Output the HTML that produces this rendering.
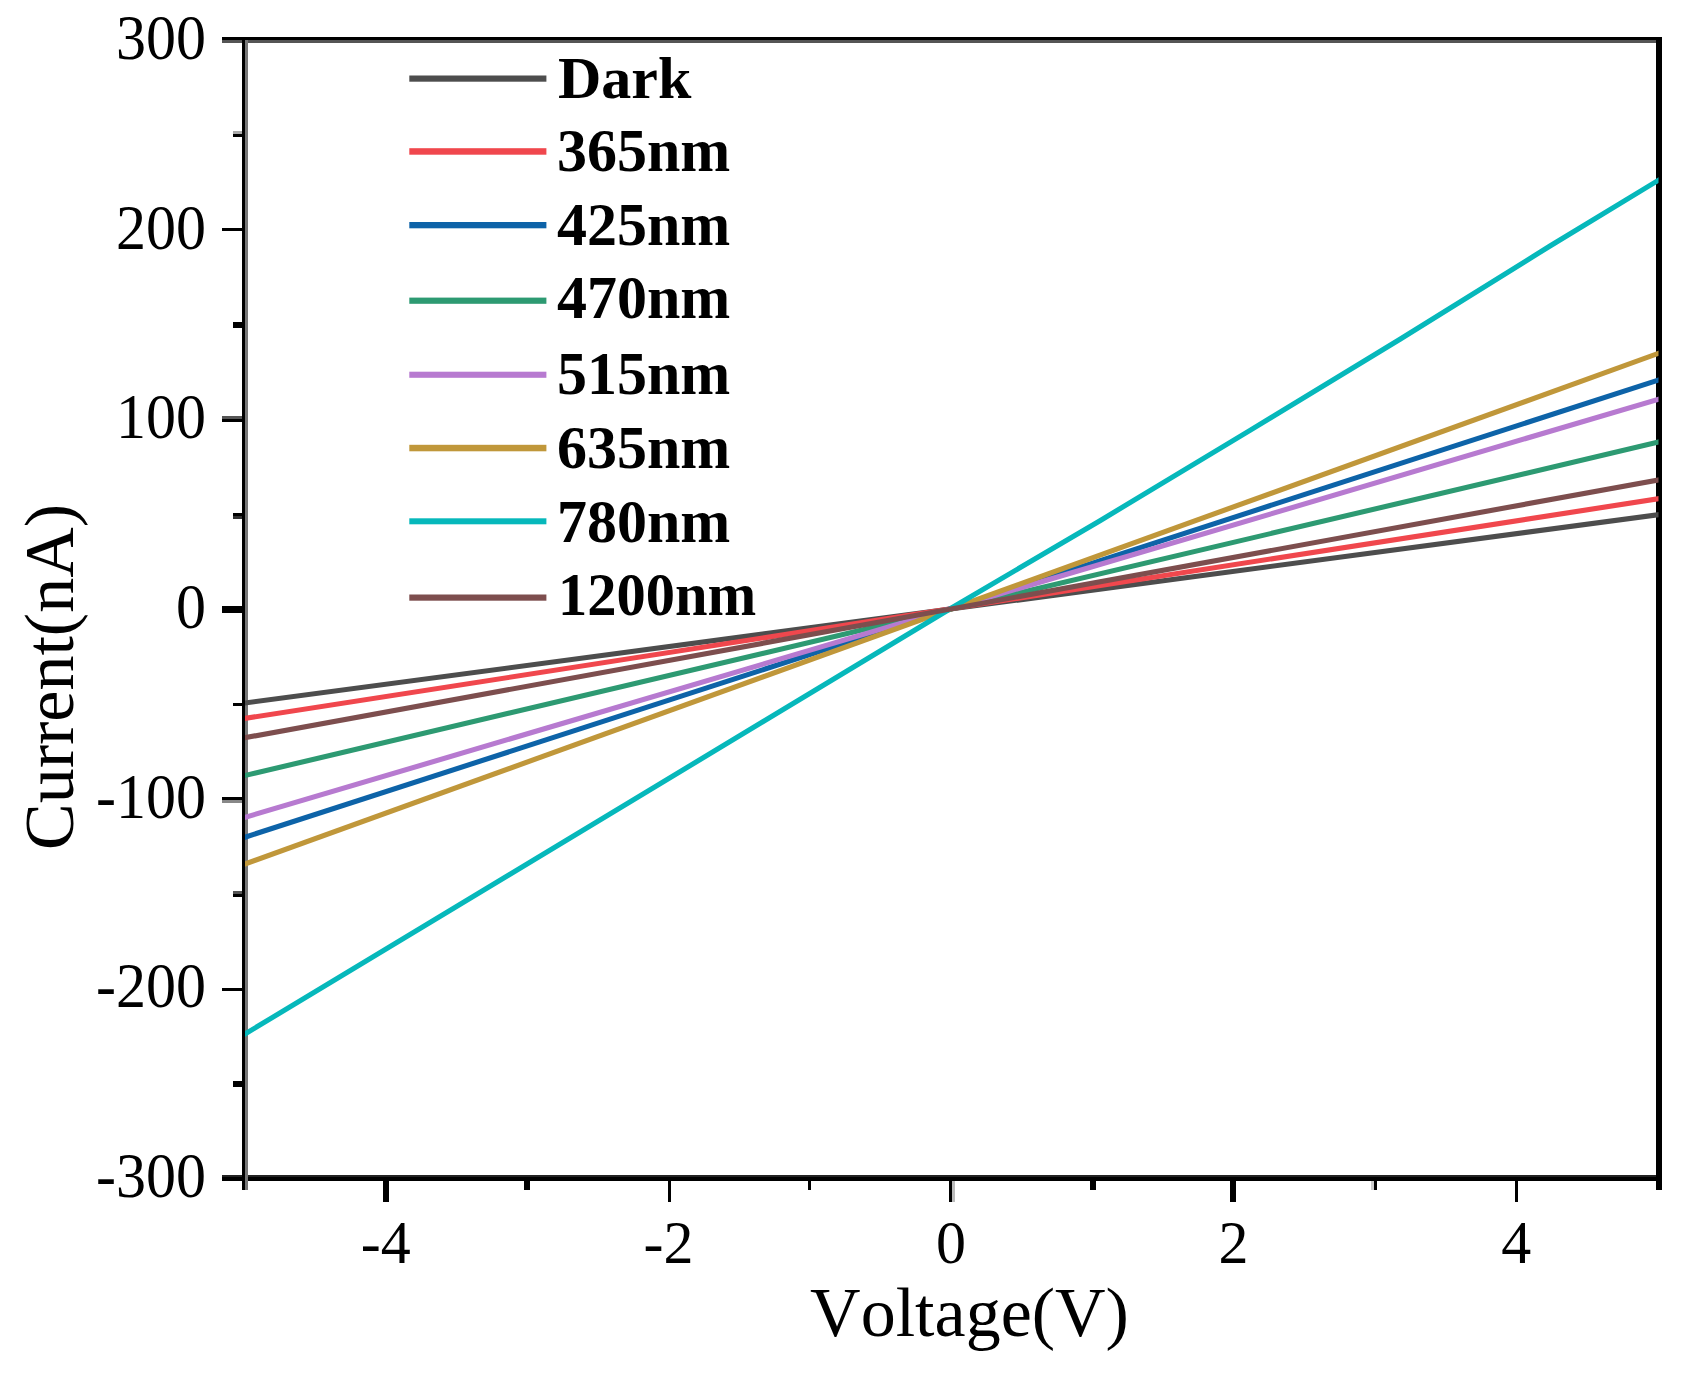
<!DOCTYPE html>
<html lang="en"><head><meta charset="utf-8"><title>I-V curves</title>
<style>
html,body{margin:0;padding:0;background:#fff;}
body{width:1691px;height:1375px;overflow:hidden;}
svg{display:block;}
text{font-family:"Liberation Serif",serif;fill:#000;font-kerning:none;}
.tk{font-size:60px;}
.ax{font-size:70px;}
.lg{font-size:60px;font-weight:bold;}
</style></head><body>
<svg width="1691" height="1375" viewBox="0 0 1691 1375">
<rect x="0" y="0" width="1691" height="1375" fill="#fff"/>
<g shape-rendering="crispEdges">
<rect x="222" y="37" width="1440" height="3" fill="#000"/>
<rect x="222" y="40" width="1440" height="3" fill="#555"/>
<rect x="222" y="1175" width="1440" height="6" fill="#000"/>
<rect x="222" y="1175" width="1440" height="2" fill="#222"/>
<rect x="242" y="37" width="3" height="1153" fill="#000"/>
<rect x="245" y="40" width="3" height="1150" fill="#777"/>
<rect x="1656" y="37" width="6" height="1153" fill="#000"/>
<rect x="233" y="131" width="9" height="3" fill="#aaa"/>
<rect x="233" y="134" width="9" height="3" fill="#000"/>
<rect x="222" y="228" width="20" height="3" fill="#000"/>
<rect x="233" y="322" width="9" height="6" fill="#000"/>
<rect x="222" y="416" width="20" height="3" fill="#555"/>
<rect x="222" y="419" width="20" height="3" fill="#000"/>
<rect x="233" y="512.5" width="9" height="3" fill="#000"/>
<rect x="233" y="515.5" width="9" height="3" fill="#333"/>
<rect x="222" y="606" width="20" height="6.5" fill="#000"/>
<rect x="233" y="703" width="9" height="3" fill="#000"/>
<rect x="222" y="797.3" width="20" height="3" fill="#000"/>
<rect x="222" y="800.3" width="20" height="2.5" fill="#888"/>
<rect x="233" y="891" width="9" height="3" fill="#555"/>
<rect x="233" y="894" width="9" height="3" fill="#000"/>
<rect x="222" y="987.5" width="20" height="3" fill="#000"/>
<rect x="233" y="1081" width="9" height="6" fill="#000"/>
<rect x="383" y="1181" width="6" height="20.5" fill="#000"/>
<rect x="524" y="1181" width="6" height="9" fill="#000"/>
<rect x="667.5" y="1181" width="3" height="20.5" fill="#000"/>
<rect x="808" y="1181" width="3" height="9" fill="#000"/>
<rect x="949" y="1181" width="3" height="20.5" fill="#000"/>
<rect x="952" y="1181" width="2.6" height="20.5" fill="#bbb"/>
<rect x="1090" y="1181" width="5.5" height="9" fill="#000"/>
<rect x="1230.3" y="1181" width="5.8" height="20.5" fill="#000"/>
<rect x="1371" y="1181" width="3.3" height="9" fill="#ccc"/>
<rect x="1374.3" y="1181" width="2.7" height="9" fill="#000"/>
<rect x="1515" y="1181" width="3" height="20.5" fill="#000"/>
</g>
<clipPath id="pc"><rect x="245" y="43" width="1413.5" height="1132"/></clipPath>
<g fill="none" stroke-width="5.1" stroke-linecap="butt" stroke-linejoin="round" clip-path="url(#pc)">
<line x1="235" y1="704.33" x2="1668" y2="513.47" stroke="#4d4d4d"/>
<line x1="235" y1="719.95" x2="1668" y2="497.25" stroke="#f0474d"/>
<line x1="235" y1="840.43" x2="1668" y2="376.97" stroke="#0d63a8"/>
<line x1="235" y1="777.86" x2="1668" y2="439.84" stroke="#2d9a72"/>
<line x1="235" y1="820.26" x2="1668" y2="396.44" stroke="#b77ad0"/>
<line x1="235" y1="867.61" x2="1668" y2="349.89" stroke="#c0973a"/>
<polyline points="235,1040.03 951.5,608 1100,520.7 1250,430.4 1400,339.3 1550,246 1668,174.43" stroke="#06b8bb"/>
<line x1="235" y1="739.52" x2="1668" y2="478.18" stroke="#7d4e4e"/>
</g>
<rect x="409.3" y="75.5" width="137.1" height="6.2" fill="#4d4d4d"/>
<rect x="409.3" y="148.2" width="137.1" height="6.5" fill="#f0474d"/>
<rect x="409.3" y="222" width="137.1" height="6.3" fill="#0d63a8"/>
<rect x="409.3" y="297.6" width="137.1" height="6.2" fill="#2d9a72"/>
<rect x="409.3" y="371.7" width="137.1" height="6.1" fill="#b77ad0"/>
<rect x="409.3" y="444.8" width="137.1" height="6.5" fill="#c0973a"/>
<rect x="409.3" y="518.3" width="137.1" height="6" fill="#06b8bb"/>
<rect x="409.3" y="594.5" width="137.1" height="6.2" fill="#7d4e4e"/>
<text class="lg" transform="translate(558 97.7) scale(1 1)">Dark</text>
<text class="lg" transform="translate(557 171.4) scale(1 1.015)">365nm</text>
<text class="lg" transform="translate(557 245.35) scale(1 1.015)">425nm</text>
<text class="lg" transform="translate(557 318.4) scale(1 1.015)">470nm</text>
<text class="lg" transform="translate(557 394.3) scale(1 1.015)">515nm</text>
<text class="lg" transform="translate(557 467.7) scale(1 1.015)">635nm</text>
<text class="lg" transform="translate(557 541.5) scale(1 1.015)">780nm</text>
<text class="lg" transform="translate(558 614.8) scale(0.975 1.015)">1200nm</text>
<text class="tk" text-anchor="end" transform="translate(206 58.5) scale(1 1.04)">300</text>
<text class="tk" text-anchor="end" transform="translate(206 248.7) scale(1 1.04)">200</text>
<text class="tk" text-anchor="end" transform="translate(206 438.3) scale(1 1.04)">100</text>
<text class="tk" text-anchor="end" transform="translate(206 627.9) scale(1 1.04)">0</text>
<text class="tk" text-anchor="end" transform="translate(206 817.5) scale(1 1.04)">-100</text>
<text class="tk" text-anchor="end" transform="translate(206 1007.1) scale(1 1.04)">-200</text>
<text class="tk" text-anchor="end" transform="translate(206 1197.4) scale(1 1.04)">-300</text>
<text class="tk" text-anchor="middle" transform="translate(385.8 1262.5) scale(1 1.03)">-4</text>
<text class="tk" text-anchor="middle" transform="translate(668.4 1262.5) scale(1 1.03)">-2</text>
<text class="tk" text-anchor="middle" transform="translate(951 1262.5) scale(1 1.03)">0</text>
<text class="tk" text-anchor="middle" transform="translate(1233.6 1262.5) scale(1 1.03)">2</text>
<text class="tk" text-anchor="middle" transform="translate(1516.2 1262.5) scale(1 1.03)">4</text>
<text class="ax" text-anchor="middle" x="969.5" y="1336">Voltage(V)</text>
<text class="ax" text-anchor="middle" transform="translate(72.8 677) rotate(-90)">Current(nA)</text>
</svg></body></html>
